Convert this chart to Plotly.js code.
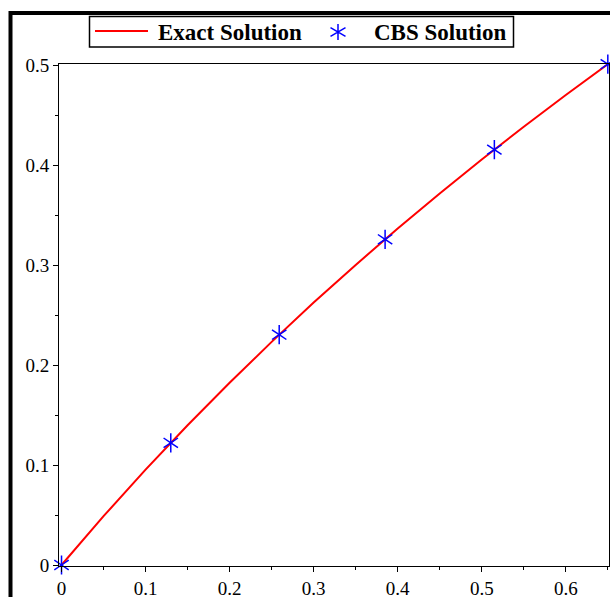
<!DOCTYPE html>
<html>
<head>
<meta charset="utf-8">
<script src="https://cdn.plot.ly/plotly-3.0.1.min.js"></script>
<style>html,body{margin:0;padding:0;background:#fff;}#chart{width:610px;height:597px;}</style>
</head>
<body>
<div id="chart"></div>
<script>
// Exact solution curve
const exactX = [0, 0.05, 0.1, 0.15, 0.2, 0.25, 0.3, 0.35, 0.4, 0.45, 0.5, 0.55, 0.6, 0.65];
const exactY = [0, 0.0488, 0.0953, 0.1398, 0.1823, 0.2231, 0.2624, 0.3001, 0.3365, 0.3716, 0.4055, 0.4383, 0.4700, 0.5008];
// CBS solution points
const cbsX = [0, 0.13, 0.259, 0.385, 0.515, 0.65];
const cbsY = [0, 0.1222, 0.2303, 0.3257, 0.4154, 0.5008];
// Tick labels
const xTicks = [0, 0.1, 0.2, 0.3, 0.4, 0.5, 0.6];
const xTickText = ['0', '0.1', '0.2', '0.3', '0.4', '0.5', '0.6'];
const yTicks = [0, 0.1, 0.2, 0.3, 0.4, 0.5];
const yTickText = ['0', '0.1', '0.2', '0.3', '0.4', '0.5'];
const legendNames = ['Exact Solution', 'CBS Solution'];

const W = 610, H = 597;
const L = 59, R = 1, T = 64, B = 31;
const pw = W - L - R, ph = H - T - B;
const px = x => (x - L) / pw;
const py = y => (H - B - y) / ph;

const serif = 'Liberation Serif, Times New Roman, serif';
const starMarker = (sym) => ({
  symbol: sym, size: 12, color: '#0000ff',
  line: {color: '#0000ff', width: 1.5}
});

const traces = [
  {x: exactX, y: exactY, type: 'scatter', mode: 'lines', name: legendNames[0],
   line: {color: '#ff0000', width: 2}, showlegend: false},
  {x: cbsX, y: cbsY, type: 'scatter', mode: 'markers', name: legendNames[1],
   marker: starMarker('y-up-open'), cliponaxis: false, showlegend: false},
  {x: cbsX, y: cbsY, type: 'scatter', mode: 'markers', name: legendNames[1],
   marker: starMarker('y-down-open'), cliponaxis: false, showlegend: false}
];

const axisCommon = {
  showgrid: false, zeroline: false, showline: true, mirror: true,
  linecolor: '#000', linewidth: 1,
  ticks: 'outside', ticklen: 5, tickwidth: 1, tickcolor: '#000',
  tickfont: {family: serif, size: 19, color: '#000'},
  tickmode: 'array',
  minor: {dtick: 0.05, ticks: 'outside', ticklen: 3, tickwidth: 1, tickcolor: '#000', showgrid: false}
};

const layout = {
  width: W, height: H,
  margin: {l: L, r: R, t: T, b: B, pad: 0},
  paper_bgcolor: '#fff', plot_bgcolor: '#fff',
  showlegend: false,
  xaxis: Object.assign({}, axisCommon, {range: [-0.003, 0.6514], tickvals: xTicks, ticktext: xTickText}),
  yaxis: Object.assign({}, axisCommon, {range: [-0.001, 0.501], tickvals: yTicks, ticktext: yTickText}),
  shapes: [
    // outer thick frame
    {type: 'rect', xref: 'paper', yref: 'paper', x0: px(10.5), x1: px(700), y0: py(13), y1: py(700),
     line: {color: '#000', width: 4}, fillcolor: 'rgba(0,0,0,0)', layer: 'above'},
    // legend box
    {type: 'rect', xref: 'paper', yref: 'paper', x0: px(89.5), x1: px(513.5), y0: py(47), y1: py(16.5),
     line: {color: '#000', width: 1.5}, fillcolor: '#fff', layer: 'above'},
    // legend line sample
    {type: 'line', xref: 'paper', yref: 'paper', x0: px(95), x1: px(148), y0: py(31), y1: py(31),
     line: {color: '#ff0000', width: 2}, layer: 'above'},
    // legend star sample
    {type: 'path', xref: 'paper', yref: 'paper', xsizemode: 'pixel', ysizemode: 'pixel',
     xanchor: px(338), yanchor: py(32),
     path: 'M0,-8L0,8M-7.5,-4.3L7.5,4.3M-7.5,4.3L7.5,-4.3',
     line: {color: '#0000ff', width: 1.5}, layer: 'above'}
  ],
  annotations: [
    {xref: 'paper', yref: 'paper', x: px(156), y: py(32), xanchor: 'left', yanchor: 'middle',
     text: '<b>' + legendNames[0] + '</b>', showarrow: false,
     font: {family: serif, size: 23, color: '#000'}},
    {xref: 'paper', yref: 'paper', x: px(372), y: py(32), xanchor: 'left', yanchor: 'middle',
     text: '<b>' + legendNames[1] + '</b>', showarrow: false,
     font: {family: serif, size: 23, color: '#000'}}
  ]
};

Plotly.newPlot('chart', traces, layout, {displayModeBar: false, staticPlot: true});
</script>
</body>
</html>
